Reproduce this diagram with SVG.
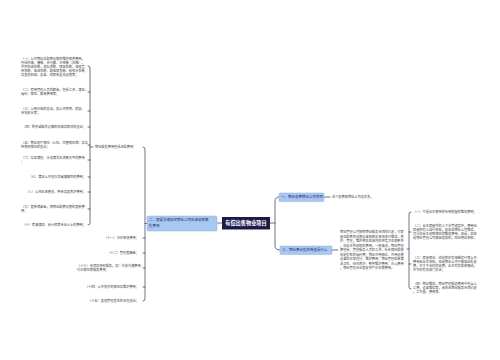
<svg xmlns="http://www.w3.org/2000/svg" width="500" height="360" viewBox="0 0 500 360">
<style>
.bg{fill:#ffffff}
.ln{fill:none;stroke:#3d4466;stroke-width:0.75;stroke-linecap:round}
.t{font-family:"Noto Sans CJK SC","Noto Sans",sans-serif;font-size:3.2px;fill:#444444}
.nb{fill:#a8c8f4;stroke:#8ab2ec;stroke-width:0.5}
.nt{font-family:"Noto Sans CJK SC","Noto Sans",sans-serif;font-size:3.5px;fill:#1f2c55}
.ct{font-family:"Noto Sans CJK SC","Noto Sans",sans-serif;font-size:5.2px;font-weight:bold;fill:#ffffff}
</style>
<rect class="bg" x="0" y="0" width="500" height="360"/>
<g id="connectors">
  <path class="ln" d="M222,223 H217"/>
  <path class="ln" d="M147,223.5 H145"/>
  <path class="ln" d="M143,147 Q145,147 145,149 V299 Q145,301 143,301"/>
  <path class="ln" d="M145,238 H143 M145,253 H143 M145,268 H143 M145,287 H143"/>
  <path class="ln" d="M93,147 H90"/>
  <path class="ln" d="M88,66 Q90,66 90,68 V223 Q90,225 88,225"/>
  <path class="ln" d="M90,92 H88 M90,111 H88 M90,127 H88 M90,145 H88 M90,160 H88 M90,177 H88 M90,192 H88 M90,209 H88"/>
  <path class="ln" d="M270,223 H275"/>
  <path class="ln" d="M279,197 Q275,197 275,201 V246 Q275,250 280,250"/>
  <path class="ln" d="M324,197 H330"/>
  <path class="ln" d="M332,250 H338"/>
  <path class="ln" d="M407,249 H409"/>
  <path class="ln" d="M411,212 Q409,212 409,214 V287 Q409,289 411,289"/>
  <path class="ln" d="M409,232 H411 M409,264 H411"/>
</g>
<g id="center">
  <rect x="222" y="217" width="48" height="12.5" fill="#1c1a4d"/>
  <text class="ct" x="246" y="225.2" text-anchor="middle">有偿出售物业项目</text>
</g>
<g id="node-left">
  <rect class="nb" x="147" y="216" width="70" height="15" rx="1"/>
  <text class="nt" x="149" y="221.4" font-size="3.6">二、根据法律规定物业公司应该收取哪<tspan x="149" dy="5.6">些费用</tspan></text>
</g>
<g id="sub-fees">
  <text class="t" x="95" y="148.2">物业服务费用包括这些费用：</text>
</g>
<g id="item-1">
  <text class="t" x="21" y="59.7">（一）公共物业及配套设施的维护保养费用，<tspan x="21" dy="4">包括外墙、楼梯、步行廊、升降梯（扶梯）、</tspan><tspan x="21" dy="4">中央空调系统、消防系统、保安系统、电视音</tspan><tspan x="21" dy="4">响系统、电话系统、配电器系统、给排水系统</tspan><tspan x="21" dy="4">及其他机械、设备、机器装置及设施等；</tspan></text>
</g>
<g id="item-2">
  <text class="t" x="21" y="91.2">（二）聘用管理人员的薪金，包括工资、津贴、<tspan x="21" dy="4">福利、保险、服装费用等；</tspan></text>
</g>
<g id="item-3">
  <text class="t" x="21" y="110.2">（三）公用水电的支出，如公共照明、喷泉、<tspan x="21" dy="4">草地淋水等；</tspan></text>
</g>
<g id="item-4">
  <text class="t" x="86" y="128.2" text-anchor="end">（四）购买或租赁必需的机械及器材的支出；</text>
</g>
<g id="item-5">
  <text class="t" x="21" y="144.2">（五）物业财产保险（火险、灾害保险等）及各<tspan x="21" dy="4">种责任保险的支出；</tspan></text>
</g>
<g id="item-6">
  <text class="t" x="21" y="159.2">（六）垃圾清理、水池清洗及消毒灭虫的费用<tspan x="21" dy="4">；</tspan></text>
</g>
<g id="item-7">
  <text class="t" x="86" y="178.2" text-anchor="end">（七）清洁公共地方及幕墙墙面的费用；</text>
</g>
<g id="item-8">
  <text class="t" x="86" y="193.2" text-anchor="end">（八）公共区域植花、种草及其养护费用；</text>
</g>
<g id="item-9">
  <text class="t" x="21" y="208.2">（九）更新储备金，即物业配套设施的更新费<tspan x="21" dy="4">用；</tspan></text>
</g>
<g id="item-10">
  <text class="t" x="86" y="226.2" text-anchor="end">（十）聘请律师、会计师等专业人士的费用；</text>
</g>
<g id="item-11">
  <text class="t" x="139" y="239.2" text-anchor="end">（十一）节日装饰费用；</text>
</g>
<g id="item-12">
  <text class="t" x="139" y="254.2" text-anchor="end">（十二）管理者酬金；</text>
</g>
<g id="item-13">
  <text class="t" x="77" y="267.2">（十三）专项及特别服务，如：代收代缴费用、<tspan x="77" dy="4">代办保险等服务费用；</tspan></text>
</g>
<g id="item-14">
  <text class="t" x="139" y="288.2" text-anchor="end">（十四）公共地方的保险及维护费用；</text>
</g>
<g id="item-15">
  <text class="t" x="139" y="302.2" text-anchor="end">（十五）其他管理发生的合理支出；</text>
</g>
<g id="node-one">
  <rect class="nb" x="279" y="193" width="45" height="8.5" rx="1"/>
  <text class="nt" x="281" y="198.4">一、物业收费物业公司项目</text>
</g>
<g id="leaf-one">
  <text class="t" x="332" y="198.2">这个收费和物业公司没关系。</text>
</g>
<g id="node-three">
  <rect class="nb" x="280" y="246" width="52" height="8.5" rx="1"/>
  <text class="nt" x="282" y="251.4">三、物业费出售的用途是什么</text>
</g>
<g id="leaf-three">
  <text class="t" x="340" y="233.2">物业管理公司按照物业服务合同的约定，对房<tspan x="340" dy="4.5">屋及配套的设施设备和相关场地进行维修、养</tspan><tspan x="340" dy="4.5">护、管理，维护相关区域内的环境卫生和秩序</tspan><tspan x="340" dy="4.5">，向业主所收取的费用。一般来讲，物业管理</tspan><tspan x="340" dy="4.5">费包括：管理服务人员的工资、社会保险和按</tspan><tspan x="340" dy="4.5">规定提取的福利费；物业共用部位、共用设施</tspan><tspan x="340" dy="4.5">设备的日常运行、维护费用；物业管理区域清</tspan><tspan x="340" dy="4.5">洁卫生、绿化养护、秩序维护费用；办公费用</tspan><tspan x="340" dy="4.5">，物业管理企业固定资产折旧等费用。</tspan></text>
</g>
<g id="r-item-1">
  <text class="t" x="413" y="213.2">（一）不是业主使用的专用房屋的维修费用；</text>
</g>
<g id="r-item-2">
  <text class="t" x="413" y="226.7">（二）业主房屋内的上下水管道损坏，费用由<tspan x="413" dy="4">房屋所有人自行承担，如果由物业公司维修，</tspan><tspan x="413" dy="4">可以向业主收取相应的维修费用。但是，如果</tspan><tspan x="413" dy="4">是物业管理公司原因造成的，应由物业承担；</tspan></text>
</g>
<g id="r-item-3">
  <text class="t" x="413" y="259.2">（三）房屋保洁、绿化养护及电梯运行等公共<tspan x="413" dy="4">费用由业主承担，但是物业公司不能借此乱收</tspan><tspan x="413" dy="4">费，对于不合理的收费，业主有权拒绝缴纳，</tspan><tspan x="413" dy="4">并可向有关部门投诉；</tspan></text>
</g>
<g id="r-item-4">
  <text class="t" x="413" y="285.2">（四）物业维修，物业管理服务费用中包含人<tspan x="413" dy="4">工费、设备维修等，具体由物业服务合同约定</tspan><tspan x="413" dy="4">，工作量、费用等。</tspan></text>
</g>
</svg>
